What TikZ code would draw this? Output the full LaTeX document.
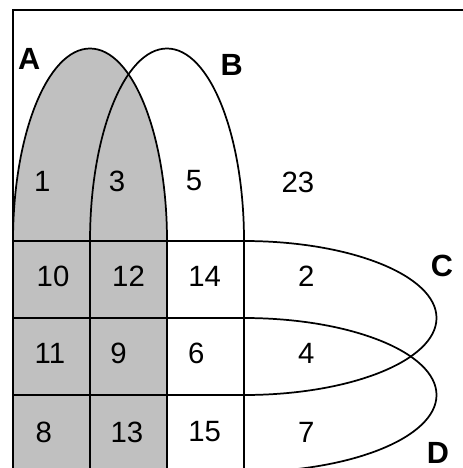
\documentclass[tikz,border=0pt]{standalone}
\usepackage{fontspec}
\setmainfont{Liberation Sans}
\usepackage{tikz}
\definecolor{setgray}{RGB}{192,192,192}
\tikzset{
  setline/.style={line width=1.3pt, black},
  numlabel/.style={font=\fontsize{22}{22}\selectfont},
  setlabel/.style={font=\fontsize{23}{23}\selectfont\bfseries}
}

\begin{document}
\begin{tikzpicture}[x=57.75pt, y=57.75pt]
  \useasboundingbox (-0.169,-2.948) rectangle (5.844,3.13);
  \clip (-0.169,-2.948) rectangle (5.844,3.13);

  % shaded set A
  \fill[setgray] (0,-3.2) -- (0,0)
    arc[start angle=180, end angle=0, x radius=1, y radius=2.5] -- (2,-3.2) -- cycle;

  % the four sets
  \draw[setline] (0,-3.2) -- (0,0)
    arc[start angle=180, end angle=0, x radius=1, y radius=2.5] -- (2,-3.2);
  \draw[setline] (1,-3.2) -- (1,0)
    arc[start angle=180, end angle=0, x radius=1, y radius=2.5] -- (3,-3.2);
  \draw[setline] (0,0) -- (3,0)
    arc[start angle=90, end angle=-90, x radius=2.5, y radius=1] -- (0,-2);
  \draw[setline] (0,-1) -- (3,-1)
    arc[start angle=90, end angle=-90, x radius=2.5, y radius=1] -- (0,-3);

  % frame
  \draw[line width=1.8pt] (0,-3.2) -- (0,3) -- (6.2,3);

  \node[setlabel] (lblA) at (0.21,2.37){A};
  \node[setlabel] (lblB) at (2.84,2.29){B};
  \node[setlabel] (lblC) at (5.57,-0.33){C};
  \node[setlabel] (lblD) at (5.52,-2.75){D};

  \foreach \v/\x/\y in {1/0.38/0.78, 3/1.35/0.78, 5/2.35/0.78, 23/3.7/0.76,
                        10/0.52/-0.46, 12/1.5/-0.46, 14/2.49/-0.46, 2/3.81/-0.46,
                        11/0.48/-1.46, 9/1.37/-1.46, 6/2.38/-1.46, 4/3.81/-1.46,
                        8/0.4/-2.48, 13/1.48/-2.48, 15/2.49/-2.48, 7/3.81/-2.48}{
    \node[numlabel] (n\v) at (\x,\y){\v};
  }
\end{tikzpicture}
\end{document}
